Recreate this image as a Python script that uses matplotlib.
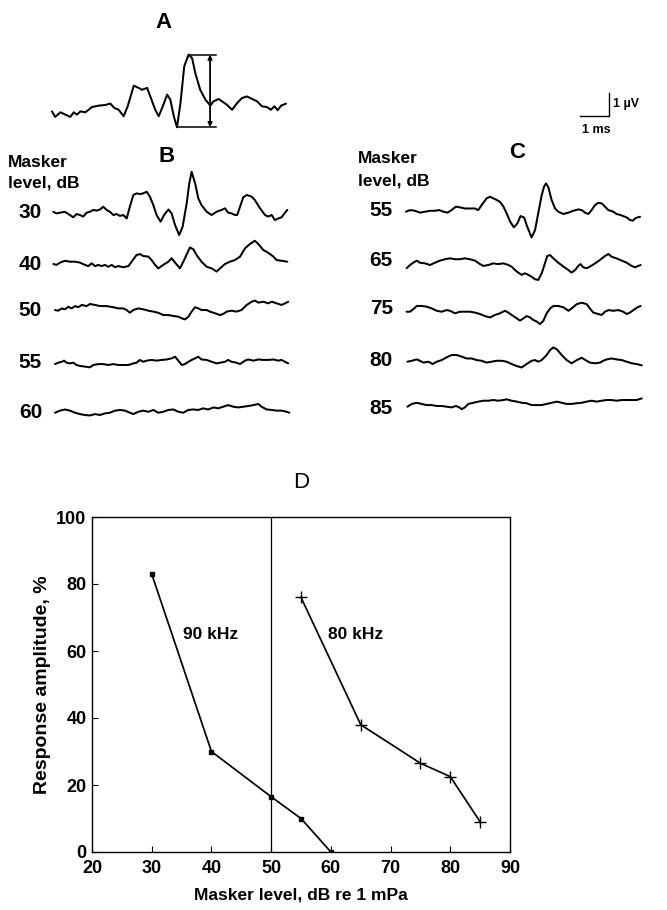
import matplotlib
matplotlib.use('Agg')
import matplotlib.pyplot as plt
import numpy as np

plt.rcParams['font.family'] = ['Liberation Sans', 'DejaVu Sans']

# ---------------- Panel D data ----------------
masker_90k = [30, 40, 50, 55, 60]
amp_90k = [83, 30, 16.5, 10, 0]
masker_80k = [55, 65, 75, 80, 85]
amp_80k = [76, 38, 26.5, 22.5, 9]
x_ticks = [20, 30, 40, 50, 60, 70, 80, 90]
y_ticks = [0, 20, 40, 60, 80, 100]

# ---------------- Waveforms (time in ms, amplitude in µV) ----------------
A_t = [0, 0.11, 0.29, 0.46, 0.63, 0.75, 0.86, 0.98, 1.15, 1.38, 1.61, 1.84, 2.01, 2.15, 2.30, 2.47,
       2.61, 2.82, 2.99, 3.10, 3.28, 3.41, 3.56, 3.68, 3.82, 3.97, 4.08, 4.20, 4.31, 4.43, 4.56,
       4.71, 4.83, 4.94, 5.11, 5.29, 5.46, 5.57, 5.75, 5.86, 6.03, 6.21, 6.38, 6.55, 6.72, 6.90,
       7.07, 7.24, 7.41, 7.55, 7.67, 7.78, 7.90, 8.07]
A_v = [0.07, -0.17, 0.03, -0.07, -0.17, 0.03, -0.07, 0.07, 0.03, 0.26, 0.32, 0.35, 0.41, 0.22, 0.14,
       -0.14, 0.29, 1.19, 1.09, 1.01, 1.09, 0.65, 0.14, -0.14, 0.29, 0.80, 0.58, -0.14, -0.62, 0.43,
       2.03, 2.54, 2.39, 1.74, 1.01, 0.58, 0.32, 0.51, 0.61, 0.51, 0.36, 0.14, 0.43, 0.65, 0.72,
       0.61, 0.51, 0.29, 0.26, 0.14, 0.29, 0.12, 0.32, 0.41]

B30_t = [0, 0.11, 0.23, 0.40, 0.57, 0.69, 0.80, 0.92, 1.03, 1.15, 1.26, 1.38, 1.49, 1.61, 1.72, 1.84,
         1.95, 2.07, 2.18, 2.30, 2.41, 2.53, 2.64, 2.76, 2.87, 2.99, 3.10, 3.22, 3.33, 3.45, 3.56,
         3.70, 3.82, 3.97, 4.08, 4.20, 4.34, 4.46, 4.60, 4.69, 4.77, 4.89, 5.00, 5.11, 5.29, 5.46,
         5.63, 5.80, 5.92, 6.03, 6.15, 6.26, 6.34, 6.44, 6.55, 6.67, 6.84, 6.95, 7.13, 7.30, 7.41,
         7.53, 7.64, 7.76, 7.87, 7.99, 8.07]
B30_v = [0.04, -0.03, 0, 0.04, -0.10, -0.20, -0.06, -0.10, -0.17, 0, 0.04, 0.12, 0.09, 0.14, 0.26,
         0.12, 0.04, -0.10, -0.06, -0.14, -0.10, -0.25, 0.26, 0.77, 0.84, 0.81, 0.84, 0.91, 0.70,
         0.33, -0.10, -0.39, -0.10, 0.14, -0.03, -0.54, -0.97, -0.61, 0.41, 1.28, 1.78, 1.28, 0.62,
         0.33, 0.04, -0.10, 0.04, 0.12, 0.19, 0, -0.03, -0.10, -0.10, 0.26, 0.67, 0.77, 0.70, 0.55,
         0.19, -0.10, -0.17, -0.10, -0.32, -0.25, -0.20, 0, 0.12]

B40_t = [0, 0.11, 0.23, 0.40, 0.57, 0.75, 0.92, 1.09, 1.21, 1.32, 1.44, 1.55, 1.67, 1.78, 1.90, 2.01,
         2.13, 2.24, 2.41, 2.59, 2.76, 2.87, 2.99, 3.10, 3.28, 3.39, 3.51, 3.62, 3.79, 3.97, 4.08,
         4.20, 4.37, 4.54, 4.71, 4.83, 4.94, 5.11, 5.29, 5.46, 5.63, 5.75, 5.92, 6.09, 6.26, 6.44,
         6.61, 6.78, 6.95, 7.07, 7.24, 7.41, 7.59, 7.70, 7.87, 8.07]
B40_v = [0, -0.04, 0.06, 0.14, 0.10, 0.10, 0.06, -0.04, -0.09, 0.03, -0.09, -0.04, -0.09, -0.04,
         -0.12, -0.04, -0.14, -0.09, -0.14, -0.09, 0.20, 0.39, 0.43, 0.35, 0.32, 0.17, -0.04, -0.19,
         -0.04, 0.10, 0.25, 0.06, -0.19, 0.25, 0.72, 0.64, 0.39, 0.10, -0.12, -0.19, -0.33, -0.19,
         0, 0.10, 0.17, 0.32, 0.68, 0.87, 1.01, 0.87, 0.61, 0.49, 0.32, 0.17, 0.14, 0.10]

B50_t = [0.06, 0.17, 0.29, 0.40, 0.52, 0.63, 0.75, 0.86, 0.98, 1.15, 1.26, 1.44, 1.61, 1.84, 2.07,
         2.24, 2.41, 2.53, 2.64, 2.76, 2.93, 3.10, 3.28, 3.45, 3.62, 3.79, 3.97, 4.14, 4.31, 4.43,
         4.54, 4.66, 4.77, 4.89, 5.00, 5.11, 5.29, 5.40, 5.57, 5.75, 5.86, 5.98, 6.15, 6.32, 6.49,
         6.67, 6.84, 6.95, 7.07, 7.24, 7.41, 7.53, 7.70, 7.87, 7.99, 8.10]
B50_v = [0, -0.03, 0.07, 0.03, 0.14, 0.07, 0.17, 0.12, 0.22, 0.17, 0.26, 0.22, 0.17, 0.17, 0.12,
         0.07, 0.07, 0, -0.12, 0, 0.07, 0.03, -0.03, -0.07, -0.12, -0.22, -0.22, -0.26, -0.29,
         -0.36, -0.41, -0.29, -0.07, 0.12, 0.07, 0, 0, -0.07, -0.14, -0.22, -0.17, -0.07, -0.03,
         -0.07, 0, 0.22, 0.36, 0.41, 0.32, 0.36, 0.29, 0.36, 0.29, 0.22, 0.29, 0.36]

B55_t = [0.06, 0.17, 0.29, 0.37, 0.46, 0.57, 0.69, 0.80, 0.92, 1.09, 1.26, 1.38, 1.55, 1.72, 1.90,
         2.07, 2.24, 2.41, 2.59, 2.76, 2.87, 2.99, 3.10, 3.22, 3.39, 3.56, 3.74, 3.91, 4.08, 4.20,
         4.31, 4.43, 4.54, 4.66, 4.77, 4.89, 5.00, 5.11, 5.29, 5.46, 5.63, 5.75, 5.92, 6.03, 6.15,
         6.32, 6.44, 6.61, 6.72, 6.90, 7.07, 7.24, 7.41, 7.59, 7.76, 7.87, 7.99, 8.10]
B55_v = [-0.06, 0, 0.04, 0.09, 0, -0.03, 0, -0.10, -0.14, -0.17, -0.20, -0.10, -0.06, -0.06, -0.10,
         -0.06, -0.10, -0.10, -0.10, -0.03, 0, 0.12, 0.04, 0.09, 0.12, 0.09, 0.12, 0.14, 0.19, 0.26,
         0.09, -0.10, -0.06, 0.04, 0.12, 0.19, 0.26, 0.14, 0.12, 0.04, -0.03, 0, 0.04, 0.12, 0.04,
         0, -0.06, 0.09, 0.14, 0.09, 0.14, 0.12, 0.12, 0.14, 0.09, 0.12, 0.04, -0.03]

B60_t = [0.06, 0.23, 0.40, 0.57, 0.75, 0.92, 1.09, 1.26, 1.44, 1.61, 1.78, 1.95, 2.13, 2.30, 2.47,
         2.64, 2.76, 2.93, 3.10, 3.28, 3.45, 3.62, 3.79, 3.97, 4.14, 4.31, 4.48, 4.66, 4.83, 5.00,
         5.17, 5.34, 5.52, 5.69, 5.86, 6.03, 6.21, 6.38, 6.55, 6.72, 6.90, 7.07, 7.18, 7.36, 7.53,
         7.70, 7.87, 8.05, 8.14]
B60_v = [0, 0.09, 0.14, 0.09, 0, -0.06, -0.10, -0.12, -0.06, -0.10, -0.03, 0, 0.09, 0.12, 0.09, 0,
         -0.06, 0.04, 0.09, 0.04, 0.12, 0, 0.04, 0.12, 0.14, 0.04, 0, 0.12, 0.14, 0.12, 0.19, 0.14,
         0.23, 0.19, 0.26, 0.33, 0.26, 0.23, 0.26, 0.29, 0.33, 0.38, 0.26, 0.14, 0.12, 0.09, 0.09,
         0.04, 0]

C55_t = [0, 0.14, 0.31, 0.48, 0.66, 0.83, 1.00, 1.15, 1.29, 1.43, 1.57, 1.72, 1.86, 2.03, 2.21, 2.38,
         2.49, 2.61, 2.78, 2.90, 3.01, 3.13, 3.24, 3.36, 3.47, 3.59, 3.72, 3.84, 3.95, 4.07, 4.18,
         4.33, 4.45, 4.56, 4.68, 4.76, 4.83, 4.91, 5.02, 5.14, 5.25, 5.43, 5.60, 5.77, 5.94, 6.06,
         6.17, 6.29, 6.40, 6.52, 6.63, 6.75, 6.86, 6.98, 7.15, 7.26, 7.38, 7.49, 7.61, 7.72, 7.82,
         7.90, 7.98, 8.07]
C55_v = [0, 0.07, 0.04, -0.04, 0, 0.04, 0.04, 0.07, 0, -0.04, 0.07, 0.22, 0.19, 0.14, 0.14, 0.14,
         0.07, 0.29, 0.58, 0.65, 0.58, 0.51, 0.43, 0.22, -0.07, -0.43, -0.68, -0.51, -0.19, -0.25,
         -0.65, -1.12, -0.80, -0.07, 0.72, 1.09, 1.23, 1.06, 0.51, 0.14, 0, -0.10, -0.04, 0.04, 0.10,
         0.07, -0.04, -0.10, 0.07, 0.29, 0.39, 0.36, 0.22, 0.07, 0, -0.10, -0.14, -0.19, -0.25,
         -0.36, -0.39, -0.29, -0.25, -0.22]

C65_t = [0.02, 0.14, 0.25, 0.37, 0.48, 0.66, 0.83, 1.00, 1.17, 1.34, 1.52, 1.69, 1.86, 2.03, 2.21,
         2.38, 2.55, 2.67, 2.84, 3.01, 3.18, 3.36, 3.53, 3.64, 3.76, 3.87, 3.99, 4.10, 4.22, 4.33,
         4.45, 4.56, 4.68, 4.79, 4.87, 4.97, 5.08, 5.25, 5.43, 5.60, 5.71, 5.83, 5.94, 6.02, 6.11,
         6.23, 6.34, 6.52, 6.69, 6.86, 6.98, 7.09, 7.26, 7.44, 7.61, 7.78, 7.90, 8.01, 8.09]
C65_v = [-0.14, 0, 0.10, 0.19, 0.10, 0.07, 0, 0.10, 0.19, 0.25, 0.29, 0.25, 0.25, 0.29, 0.25, 0.19,
         0.04, -0.04, 0, 0.07, 0.04, 0.07, 0, -0.07, -0.22, -0.33, -0.43, -0.36, -0.43, -0.51,
         -0.62, -0.65, -0.36, 0.07, 0.39, 0.43, 0.29, 0.10, -0.07, -0.22, -0.33, -0.22, -0.04, 0.04,
         -0.10, -0.14, -0.07, 0.07, 0.22, 0.39, 0.48, 0.36, 0.29, 0.19, 0.10, -0.04, -0.10, -0.04, 0]

C75_t = [0.02, 0.14, 0.28, 0.37, 0.54, 0.71, 0.89, 1.06, 1.23, 1.40, 1.52, 1.69, 1.86, 2.03, 2.21,
         2.38, 2.55, 2.72, 2.90, 3.07, 3.24, 3.41, 3.53, 3.70, 3.82, 3.93, 4.05, 4.16, 4.28, 4.39,
         4.51, 4.62, 4.74, 4.85, 4.97, 5.08, 5.25, 5.43, 5.60, 5.71, 5.89, 6.06, 6.23, 6.34, 6.46,
         6.63, 6.75, 6.86, 6.98, 7.15, 7.32, 7.49, 7.61, 7.72, 7.84, 7.98, 8.09]
C75_v = [0, 0, 0.14, 0.25, 0.25, 0.22, 0.14, 0.04, 0, 0.07, 0.04, -0.07, 0, 0, 0, -0.04, -0.10,
         -0.19, -0.25, -0.14, -0.07, 0.04, -0.04, -0.19, -0.29, -0.39, -0.29, -0.19, -0.25, -0.36,
         -0.43, -0.54, -0.39, -0.07, 0.14, 0.25, 0.25, 0.19, 0.04, 0.14, 0.33, 0.39, 0.33, 0.14,
         -0.04, -0.10, -0.14, 0, 0.07, 0.04, 0.07, 0, -0.10, -0.04, 0.07, 0.19, 0.25]

C80_t = [0.05, 0.20, 0.37, 0.48, 0.60, 0.77, 0.92, 1.06, 1.23, 1.40, 1.57, 1.75, 1.92, 2.09, 2.26,
         2.44, 2.61, 2.78, 2.95, 3.13, 3.30, 3.47, 3.64, 3.82, 3.99, 4.16, 4.33, 4.45, 4.56, 4.68,
         4.85, 4.97, 5.08, 5.20, 5.37, 5.54, 5.71, 5.89, 6.06, 6.23, 6.34, 6.52, 6.69, 6.80, 6.92,
         7.09, 7.26, 7.44, 7.61, 7.78, 7.95, 8.13]
C80_v = [0, 0.04, 0.10, 0.04, -0.04, 0, -0.10, 0, 0.07, 0.19, 0.29, 0.29, 0.22, 0.14, 0.14, 0.07,
         0.04, -0.04, 0, 0.04, 0.04, 0, -0.10, -0.19, -0.25, -0.10, 0.04, 0.07, 0, 0.07, 0.29, 0.51,
         0.62, 0.54, 0.29, 0.07, -0.07, 0.07, 0.17, 0.04, -0.04, -0.07, -0.04, 0.04, 0.10, 0.14,
         0.10, 0.07, 0, -0.07, -0.10, -0.16]

C85_t = [0.05, 0.20, 0.37, 0.54, 0.71, 0.89, 1.06, 1.23, 1.40, 1.57, 1.72, 1.84, 1.92, 2.03, 2.15,
         2.32, 2.49, 2.67, 2.84, 3.01, 3.18, 3.36, 3.47, 3.64, 3.82, 3.99, 4.16, 4.33, 4.51, 4.68,
         4.85, 5.02, 5.20, 5.37, 5.54, 5.71, 5.89, 6.06, 6.23, 6.40, 6.57, 6.75, 6.92, 7.09, 7.26,
         7.44, 7.61, 7.78, 7.95, 8.13]
C85_v = [-0.03, 0.09, 0.14, 0.09, 0.04, 0.04, 0, 0, -0.03, -0.06, 0, -0.06, -0.14, -0.06, 0.09,
         0.14, 0.19, 0.23, 0.23, 0.26, 0.23, 0.26, 0.29, 0.23, 0.19, 0.14, 0.12, 0.04, 0.04, 0.04,
         0.09, 0.14, 0.19, 0.14, 0.09, 0.09, 0.12, 0.14, 0.19, 0.23, 0.19, 0.23, 0.26, 0.26, 0.23,
         0.26, 0.26, 0.26, 0.26, 0.33]

B_levels = ['30', '40', '50', '55', '60']
C_levels = ['55', '65', '75', '80', '85']
B_traces = [(B30_t, B30_v), (B40_t, B40_v), (B50_t, B50_v), (B55_t, B55_v), (B60_t, B60_v)]
C_traces = [(C55_t, C55_v), (C65_t, C65_v), (C75_t, C75_v), (C80_t, C80_v), (C85_t, C85_v)]

# ---------------- Layout (pixel canvas) ----------------
W, H = 667, 910
MS = 29.0   # pixels per ms
UV = 23.0   # pixels per µV
LW = 1.45

fig = plt.figure(figsize=(W / 100, H / 100), dpi=100)
ov = fig.add_axes([0, 0, 1, 1])
ov.set_xlim(0, W)
ov.set_ylim(H, 0)
ov.axis('off')


def draw_trace(t, v, x0, y0):
    t = np.asarray(t, float)
    v = np.asarray(v, float)
    ov.plot(x0 + t * MS, y0 - v * UV, color='black', lw=LW,
            solid_joinstyle='round', solid_capstyle='round')


# Panel A
ax0, ay0 = 52, 113
draw_trace(A_t, A_v, ax0, ay0)
iA = int(np.argmax(A_v)); jA = int(np.argmin(A_v))
xr = ax0 + 5.66 * MS
xa = ax0 + 5.45 * MS
ytop = ay0 - A_v[iA] * UV
ybot = ay0 - A_v[jA] * UV
ov.plot([ax0 + A_t[iA] * MS, xr], [ytop, ytop], color='black', lw=1.1)
ov.plot([ax0 + A_t[jA] * MS, xr], [ybot, ybot], color='black', lw=1.1)
ov.annotate('', xy=(xa, ytop), xytext=(xa, ybot),
            arrowprops=dict(arrowstyle='<|-|>', color='black', lw=1.3, mutation_scale=6,
                            shrinkA=0, shrinkB=0))
ov.text(163, 22, 'A', ha='center', va='center', fontsize=16, fontweight='bold')

# scale bar
sx, sy = 609, 116
ov.plot([sx - MS, sx, sx], [sy, sy, sy - UV], color='black', lw=1.0)
ov.text(613, 104, '1 µV', ha='left', va='center', fontsize=9, fontweight='bold')
ov.text(582, 130, '1 ms', ha='left', va='center', fontsize=9, fontweight='bold')

# Panel B
B_x0 = 53.3
B_y0 = [212.7, 264, 310, 362.7, 412.7]
ov.text(167, 157, 'B', ha='center', va='center', fontsize=16, fontweight='bold')
ov.text(8, 167, 'Masker', ha='left', va='baseline', fontsize=12.5, fontweight='bold')
ov.text(8, 187, 'level, dB', ha='left', va='baseline', fontsize=12.5, fontweight='bold')
for lab, (t, v), y0 in zip(B_levels, B_traces, B_y0):
    draw_trace(t, v, B_x0, y0)
    ov.text(42, y0, lab, ha='right', va='center', fontsize=15, fontweight='bold')

# Panel C
C_x0 = 406
C_y0 = [211.7, 265, 311.7, 361.7, 406]
C_lab_y = [210, 260, 309, 361, 408]
ov.text(517, 153, 'C', ha='center', va='center', fontsize=16, fontweight='bold')
ov.text(358, 163, 'Masker', ha='left', va='baseline', fontsize=12.5, fontweight='bold')
ov.text(358, 185, 'level, dB', ha='left', va='baseline', fontsize=12.5, fontweight='bold')
for lab, (t, v), y0, ly in zip(C_levels, C_traces, C_y0, C_lab_y):
    draw_trace(t, v, C_x0, y0)
    ov.text(393, ly, lab, ha='right', va='center', fontsize=15, fontweight='bold')

# Panel D
ov.text(301, 482, 'D', ha='center', va='center', fontsize=16)
axD = fig.add_axes([92 / W, (H - 852) / H, 418 / W, 335 / H])
axD.plot(masker_90k, amp_90k, color='black', lw=1.25, marker='s', ms=2.6)
axD.plot(masker_80k, amp_80k, color='black', lw=1.25, marker='+', ms=9, mew=1.0)
axD.axvline(50, color='black', lw=0.9)
axD.set_xlim(20, 90)
axD.set_ylim(0, 100)
axD.set_xticks(x_ticks)
axD.set_yticks(y_ticks)
axD.tick_params(direction='in', length=4, width=0.8, labelsize=13)
axD.tick_params(axis='x', pad=6)
axD.tick_params(axis='y', pad=4)
for lbl in axD.get_xticklabels() + axD.get_yticklabels():
    lbl.set_fontweight('bold')
for s in axD.spines.values():
    s.set_linewidth(1.0)
axD.set_xlabel('Masker level, dB re 1 mPa', fontsize=12.5, fontweight='bold', labelpad=7)
axD.set_ylabel('Response amplitude, %', fontsize=14, fontweight='bold', labelpad=4)
axD.text(35.2, 64.8, '90 kHz', ha='left', va='center', fontsize=12.5, fontweight='bold')
axD.text(59.5, 64.8, '80 kHz', ha='left', va='center', fontsize=12.5, fontweight='bold')

fig.savefig('out.png', dpi=100)
